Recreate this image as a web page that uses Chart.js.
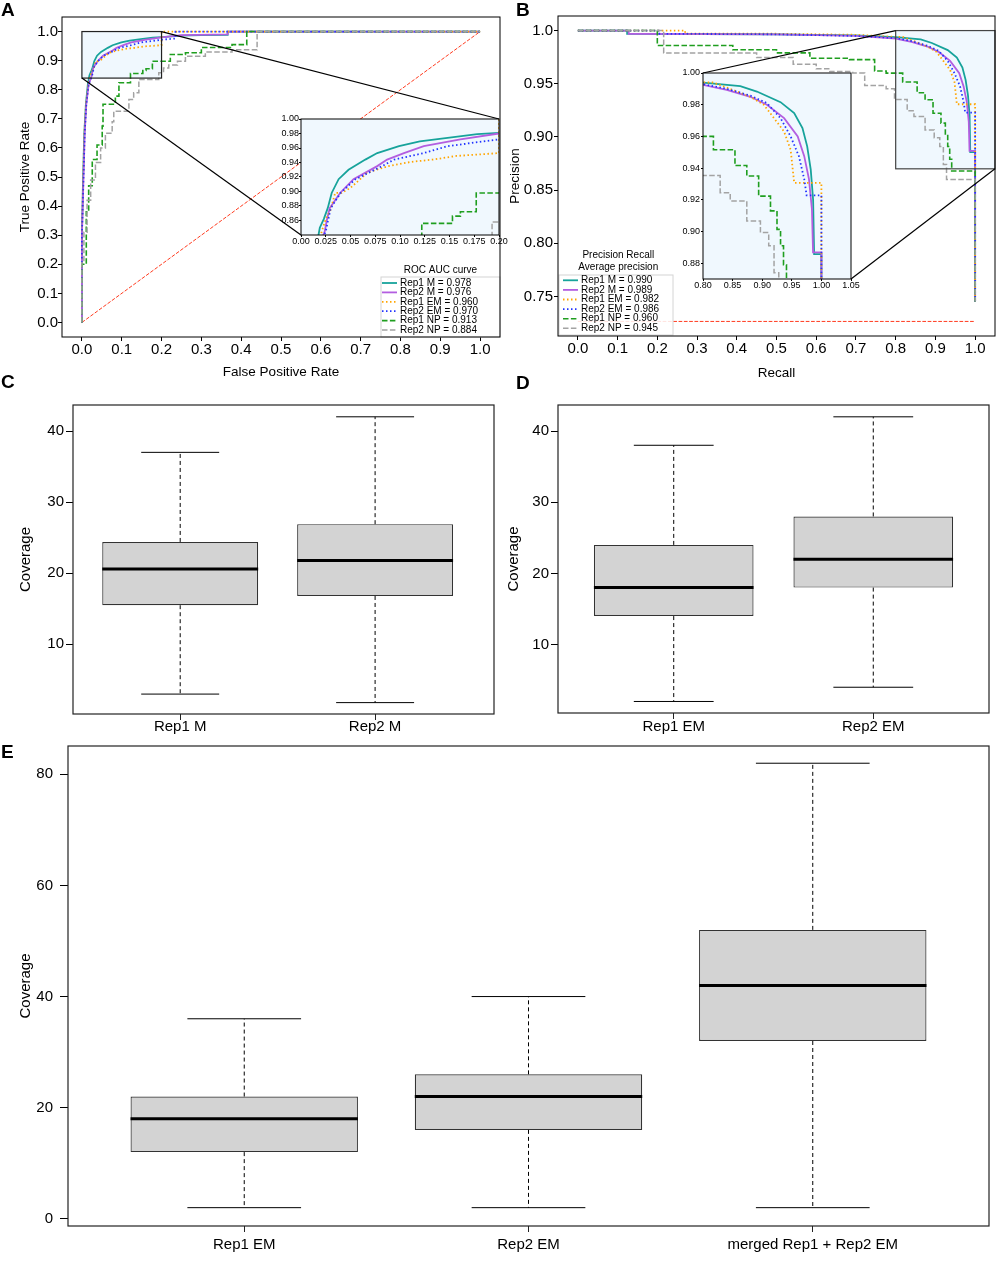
<!DOCTYPE html>
<html>
<head>
<meta charset="utf-8">
<title>ROC / PR curves and coverage box plots</title>
<script src="https://cdn.jsdelivr.net/npm/chart.js@4.4.1/dist/chart.umd.min.js"></script>
<style>
  html, body { margin: 0; padding: 0; background: #fff; }
  body { position: relative; width: 996px; height: 1286px; overflow: hidden; font-family: "Liberation Sans", Arial, sans-serif; }
  canvas { position: absolute; }
  .tag { position: absolute; font-weight: bold; font-size: 19px; line-height: 1; }
</style>
</head>
<body>
<canvas id="rocMain" width="502" height="385" style="left:0;top:0"></canvas>
<canvas id="prMain" width="500" height="385" style="left:496px;top:0"></canvas>
<canvas id="boxC" width="500" height="370" style="left:0;top:370px"></canvas>
<canvas id="boxD" width="500" height="370" style="left:496px;top:370px"></canvas>
<canvas id="boxE" width="996" height="556" style="left:0;top:730px"></canvas>
<canvas id="rocInset" width="257" height="140" style="left:255px;top:112px"></canvas>
<canvas id="prInset" width="205" height="230" style="left:660px;top:66px"></canvas>
<div class="tag" style="left:1px;top:0">A</div>
<div class="tag" style="left:516px;top:0">B</div>
<div class="tag" style="left:1px;top:372px">C</div>
<div class="tag" style="left:516px;top:373px">D</div>
<div class="tag" style="left:1px;top:742px">E</div>
<script>
// ---- series names and scores ----
const seriesNames = ['Rep1 M', 'Rep2 M', 'Rep1 EM', 'Rep2 EM', 'Rep1 NP', 'Rep2 NP'];
const rocAuc = [0.978, 0.976, 0.960, 0.970, 0.913, 0.884];
const prAvg = [0.990, 0.989, 0.982, 0.986, 0.960, 0.945];

// ---- panel A: ROC curves [fpr, tpr] ----
const rocRep1M = [[0,0],[0,0.3],[0.003,0.5],[0.006,0.65],[0.01,0.75],[0.015,0.82],[0.019,0.85],[0.023,0.862],[0.027,0.877],[0.031,0.898],[0.038,0.917],[0.048,0.93],[0.065,0.944],[0.077,0.953],[0.099,0.9625],[0.12,0.969],[0.148,0.974],[0.178,0.979],[0.2,0.981],[0.25,0.986],[0.3,0.988],[0.366,0.989],[0.366,1],[1,1]];
const rocRep2M = [[0,0],[0,0.3],[0.004,0.5],[0.007,0.65],[0.011,0.75],[0.017,0.82],[0.024,0.845],[0.026,0.86],[0.029,0.877],[0.0395,0.898],[0.053,0.917],[0.077,0.935],[0.087,0.944],[0.104,0.953],[0.124,0.9625],[0.161,0.972],[0.2,0.98],[0.25,0.988],[0.366,0.99],[0.366,1],[1,1]];
const rocRep1EM = [[0,0],[0,0.3],[0.003,0.5],[0.006,0.65],[0.01,0.75],[0.016,0.82],[0.021,0.845],[0.025,0.862],[0.03,0.875],[0.0345,0.898],[0.041,0.898],[0.05,0.905],[0.067,0.926],[0.088,0.935],[0.112,0.941],[0.133,0.944],[0.157,0.949],[0.2,0.953],[0.2,1],[1,1]];
const rocRep2EM = [[0,0],[0,0.3],[0.004,0.5],[0.007,0.65],[0.011,0.75],[0.017,0.82],[0.025,0.845],[0.03,0.877],[0.04,0.898],[0.055,0.917],[0.082,0.935],[0.094,0.944],[0.124,0.953],[0.148,0.9625],[0.2,0.972],[0.235,0.976],[0.235,1],[1,1]];
// NP curves are staircases: [end of flat run, level]
const rocRep1NP = [[0,0],[0.011,0.2],[0.017,0.38],[0.026,0.47],[0.038,0.56],[0.051,0.61],[0.053,0.675],[0.084,0.75],[0.093,0.778],[0.122,0.824],[0.153,0.856],[0.161,0.866],[0.177,0.872],[0.222,0.898],[0.26,0.921],[0.3,0.927],[0.377,0.945],[0.414,0.955],[1,1]];
const rocRep2NP = [[0,0],[0.005,0.21],[0.013,0.31],[0.022,0.42],[0.034,0.49],[0.047,0.55],[0.059,0.6],[0.076,0.65],[0.08,0.69],[0.118,0.726],[0.13,0.766],[0.143,0.79],[0.193,0.835],[0.205,0.858],[0.218,0.875],[0.24,0.885],[0.26,0.898],[0.31,0.915],[0.377,0.93],[0.44,0.937],[1,1]];
const rocChance = [[0,0],[1,1]];

// ---- panel B: precision-recall curves [recall, precision] ----
const prRep1M = [[0,1],[0.124,1],[0.124,0.997],[0.5,0.9965],[0.7,0.9955],[0.8,0.9939],[0.863,0.9917],[0.891,0.9883],[0.931,0.9816],[0.954,0.9747],[0.968,0.9653],[0.976,0.9537],[0.982,0.939],[0.986,0.92],[0.9877,0.8857],[1,0.8857],[1,0.745]];
const prRep2M = [[0,1],[0.128,1],[0.128,0.997],[0.5,0.9965],[0.7,0.995],[0.8,0.9925],[0.84,0.9893],[0.88,0.985],[0.908,0.98],[0.937,0.9715],[0.96,0.96],[0.971,0.9475],[0.979,0.933],[0.984,0.914],[0.9859,0.8868],[1,0.8868],[1,0.745]];
const prRep1EM = [[0,1],[0.27,1],[0.27,0.997],[0.5,0.997],[0.7,0.996],[0.8,0.994],[0.8176,0.994],[0.846,0.99],[0.88,0.985],[0.9026,0.98],[0.92,0.9715],[0.937,0.963],[0.948,0.9517],[0.954,0.9307],[1,0.9307],[1,0.745]];
const prRep2EM = [[0,1],[0.203,1],[0.203,0.997],[0.5,0.9965],[0.7,0.995],[0.8,0.993],[0.84,0.99],[0.88,0.9857],[0.908,0.981],[0.931,0.9715],[0.948,0.96],[0.962,0.9475],[0.971,0.933],[0.975,0.9228],[1,0.9228],[1,0.744]];
const prRep1NP = [[0,1],[0.2,1],[0.39,0.986],[0.5,0.982],[0.584,0.979],[0.684,0.974],[0.747,0.9727],[0.776,0.962],[0.8176,0.96],[0.854,0.9516],[0.874,0.9416],[0.894,0.935],[0.914,0.9223],[0.925,0.913],[0.931,0.9013],[0.936,0.891],[0.941,0.879],[1,0.868],[1,0.745]];
const prRep2NP = [[0,1],[0.216,1],[0.45,0.979],[0.542,0.9746],[0.6,0.9683],[0.634,0.964],[0.692,0.9614],[0.722,0.96],[0.776,0.9483],[0.797,0.9452],[0.829,0.9353],[0.846,0.9245],[0.874,0.9193],[0.897,0.9066],[0.911,0.8993],[0.92,0.891],[0.928,0.874],[1,0.86],[1,0.745]];
const prBaseline = [[0,0.7265],[1,0.7265]];

// ---- tick labels ----
const rocTickLabels = ['0.0','0.1','0.2','0.3','0.4','0.5','0.6','0.7','0.8','0.9','1.0'];
const prYTickLabels = ['0.75','0.80','0.85','0.90','0.95','1.0'];
const rocInsetX = ['0.00','0.025','0.05','0.075','0.10','0.125','0.15','0.175','0.20'];
const rocInsetY = ['0.86','0.88','0.90','0.92','0.94','0.96','0.98','1.00'];
const prInsetX = ['0.80','0.85','0.90','0.95','1.00','1.05'];
const prInsetY = ['0.88','0.90','0.92','0.94','0.96','0.98','1.00'];
const coverTicksCD = ['10','20','30','40'];
const coverTicksE = ['0','20','40','60','80'];

// ---- panels C, D, E: coverage box plots ----
const boxCCats = ['Rep1 M', 'Rep2 M'];
const boxCMin = [3, 1.8], boxCQ1 = [15.5, 16.8], boxCMed = [20.6, 21.8], boxCQ3 = [24.4, 26.9], boxCMax = [37, 42];
const boxDCats = ['Rep1 EM', 'Rep2 EM'];
const boxDMin = [2, 4], boxDQ1 = [14, 18], boxDMed = [18, 22], boxDQ3 = [24, 28], boxDMax = [38, 42];
const boxECats = ['Rep1 EM', 'Rep2 EM', 'merged Rep1 + Rep2 EM'];
const boxEMin = [2, 2, 2], boxEQ1 = [12, 16, 32], boxEMed = [18, 22, 42], boxEQ3 = [22, 26, 52], boxEMax = [36, 40, 82];

// ---- styles ----
const FONT = '"Liberation Sans", Arial, sans-serif';
const curveColors = ['#17a39b', '#b35ee0', '#ffa500', '#2233ff', '#1f9e1f', '#a3a3a3'];
const curveDashes = [[], [], [1.5, 2.5], [1.5, 2.5], [5.5, 2.4], [5.5, 2.4]];
const curveWidths = [1.8, 1.8, 1.8, 1.8, 1.6, 1.5];
const curveSteps = [false, false, false, false, 'after', 'after'];

Chart.defaults.font.family = FONT;
Chart.defaults.color = '#000';
Chart.defaults.animation = false;

function toXY(pts) { return pts.map(p => ({ x: p[0], y: p[1] })); }

function curveSets(list, scores, ref) {
  const sets = list.map((pts, i) => ({
    label: seriesNames[i] + ' = ' + scores[i].toFixed(3),
    data: toXY(pts),
    borderColor: curveColors[i],
    borderWidth: curveWidths[i],
    borderDash: curveDashes[i],
    stepped: curveSteps[i],
    pointRadius: 0,
    tension: 0,
    fill: false,
    order: -i,
    inLegend: true
  }));
  sets.push({ data: toXY(ref), borderColor: '#ff3b1f', borderWidth: 1, borderDash: [3.7, 1.6],
    pointRadius: 0, fill: false, order: 1, inLegend: false });
  return sets;
}

function linAxis(min, max, labels, o) {
  const values = labels.map(Number);
  return {
    type: 'linear', min: min, max: max, offset: false,
    afterBuildTicks: s => { s.ticks = values.map(v => ({ value: v })); },
    ticks: { callback: (v, i) => labels[i], font: { size: o.font }, padding: o.pad, maxRotation: 0, autoSkip: false, color: '#000' },
    grid: { drawOnChartArea: false, drawTicks: true, tickLength: o.tick, color: '#000', offset: false },
    border: { display: false },
    title: o.title ? { display: true, text: o.title, font: { size: o.titleSize }, color: '#000', padding: o.titlePad } : { display: false },
    afterFit: s => { if (s.isHorizontal()) s.height = o.size; else s.width = o.size; }
  };
}

function catAxis(min, max, cats, o) {
  return {
    type: 'linear', min: min, max: max, offset: false,
    afterBuildTicks: s => { s.ticks = cats.map((c, i) => ({ value: i + 1 })); },
    ticks: { callback: (v, i) => cats[i], font: { size: 15 }, padding: o.pad, maxRotation: 0, autoSkip: false, color: '#000' },
    grid: { drawOnChartArea: false, drawTicks: true, tickLength: o.tick, color: '#222', offset: false },
    border: { display: false },
    afterFit: s => { s.height = o.size; }
  };
}

function line(ctx, x0, y0, x1, y1) { ctx.beginPath(); ctx.moveTo(x0, y0); ctx.lineTo(x1, y1); ctx.stroke(); }

// frame around the plotting area
const framePlugin = {
  id: 'frame',
  afterDraw(chart, args, o) {
    const { left, top, right, bottom } = chart.chartArea;
    const ctx = chart.ctx;
    ctx.save();
    ctx.strokeStyle = o.color || '#000';
    ctx.lineWidth = o.width || 1;
    ctx.strokeRect(left, top, right - left, bottom - top);
    ctx.restore();
  }
};

// light blue background for the zoomed insets
const insetBgPlugin = {
  id: 'insetBg',
  beforeDatasetsDraw(chart, args, o) {
    const { left, top, right, bottom } = chart.chartArea;
    chart.ctx.save();
    chart.ctx.fillStyle = o.color;
    chart.ctx.fillRect(left, top, right - left, bottom - top);
    chart.ctx.restore();
  }
};

// zoom rectangle on the main chart, linked to the inset chart
function zoomGeom(chart, o) {
  const ins = o.inset();
  const xs = chart.scales.x, ys = chart.scales.y;
  const r = {
    left: xs.getPixelForValue(ins.scales.x.min), right: xs.getPixelForValue(ins.scales.x.max),
    top: ys.getPixelForValue(ins.scales.y.max), bottom: ys.getPixelForValue(ins.scales.y.min)
  };
  const a = chart.canvas.getBoundingClientRect(), b = ins.canvas.getBoundingClientRect();
  const dx = b.left - a.left, dy = b.top - a.top, ca = ins.chartArea;
  const t = { left: ca.left + dx, right: ca.right + dx, top: ca.top + dy, bottom: ca.bottom + dy };
  return { r, t };
}
const zoomPlugin = {
  id: 'zoomBox',
  beforeDatasetsDraw(chart, args, o) {
    const { r } = zoomGeom(chart, o);
    chart.ctx.save();
    chart.ctx.fillStyle = o.fill;
    chart.ctx.fillRect(r.left, r.top, r.right - r.left, r.bottom - r.top);
    chart.ctx.restore();
  },
  afterDatasetsDraw(chart, args, o) {
    const { r, t } = zoomGeom(chart, o);
    const ctx = chart.ctx;
    ctx.save();
    ctx.strokeStyle = o.edge;
    ctx.lineWidth = 1.2;
    ctx.strokeRect(r.left, r.top, r.right - r.left, r.bottom - r.top);
    ctx.strokeStyle = '#000';
    o.links.forEach(k => line(ctx, r[k[0]], r[k[1]], t[k[0]], t[k[1]]));
    ctx.restore();
  }
};

// matplotlib-like legend box
const legendPlugin = {
  id: 'curveLegend',
  afterDatasetsDraw(chart, args, o) {
    const ctx = chart.ctx;
    ctx.save();
    ctx.fillStyle = 'rgba(255,255,255,0.85)';
    ctx.fillRect(o.box[0], o.box[1], o.box[2], o.box[3]);
    ctx.strokeStyle = '#d4d4d4';
    ctx.lineWidth = 1;
    ctx.strokeRect(o.box[0], o.box[1], o.box[2], o.box[3]);
    ctx.font = '10px ' + FONT;
    ctx.fillStyle = '#000';
    ctx.textAlign = 'center';
    ctx.textBaseline = 'middle';
    o.title.forEach((t, k) => ctx.fillText(t, o.titleX, o.titleY + k * 12));
    ctx.textAlign = 'left';
    chart.data.datasets.filter(d => d.inLegend).forEach((d, k) => {
      const y = o.rowY + k * o.rowGap;
      ctx.strokeStyle = d.borderColor;
      ctx.lineWidth = d.borderWidth;
      ctx.setLineDash(d.borderDash);
      line(ctx, o.sampleX, y, o.sampleX + 15, y);
      ctx.setLineDash([]);
      ctx.fillText(d.label, o.sampleX + 18, y);
    });
    ctx.restore();
  }
};

// median, whiskers and caps on top of the floating-bar boxes
const boxWhiskerPlugin = {
  id: 'boxWhisker',
  afterDatasetsDraw(chart) {
    const ds = chart.data.datasets[0];
    const meta = chart.getDatasetMeta(0);
    const ys = chart.scales.y;
    const ctx = chart.ctx;
    ctx.save();
    ctx.strokeStyle = '#000';
    meta.data.forEach((bar, i) => {
      const p = bar.getProps(['x', 'width'], true);
      const cx = p.x, w = p.width;
      const q1 = ys.getPixelForValue(ds.data[i].y[0]);
      const q3 = ys.getPixelForValue(ds.data[i].y[1]);
      const lo = ys.getPixelForValue(ds.whiskerLow[i]);
      const hi = ys.getPixelForValue(ds.whiskerHigh[i]);
      const med = ys.getPixelForValue(ds.median[i]);
      ctx.lineWidth = 1;
      ctx.setLineDash([4, 3]);
      line(ctx, cx, q3, cx, hi);
      line(ctx, cx, q1, cx, lo);
      ctx.setLineDash([]);
      line(ctx, cx - w / 4, hi, cx + w / 4, hi);
      line(ctx, cx - w / 4, lo, cx + w / 4, lo);
      ctx.lineWidth = 3;
      line(ctx, cx - w / 2, med, cx + w / 2, med);
    });
    ctx.restore();
  }
};

const baseOpts = {
  responsive: false,
  events: [],
  plugins: { legend: { display: false }, tooltip: { enabled: false } }
};

function lineChart(id, sets, x, y, padding, extra, plugins) {
  return new Chart(document.getElementById(id), {
    type: 'line',
    data: { datasets: sets },
    options: Object.assign({}, baseOpts, {
      layout: { padding: padding },
      scales: { x: x, y: y },
      plugins: Object.assign({ legend: { display: false }, tooltip: { enabled: false }, frame: { color: '#000', width: 1 } }, extra)
    }),
    plugins: plugins
  });
}

const rocList = [rocRep1M, rocRep2M, rocRep1EM, rocRep2EM, rocRep1NP, rocRep2NP];
const prList = [prRep1M, prRep2M, prRep1EM, prRep2EM, prRep1NP, prRep2NP];

// ---- insets first, so the main charts can link to them ----
const rocInsetChart = lineChart('rocInset', curveSets(rocList, rocAuc, rocChance),
  linAxis(0, 0.2, rocInsetX, { font: 9, pad: -1, tick: 2, size: 17 }),
  linAxis(0.84, 1.0, rocInsetY, { font: 9, pad: 0, tick: 2, size: 46 }),
  { top: 7, right: 13, left: 0, bottom: 0 },
  { insetBg: { color: '#f0f8fe' } }, [insetBgPlugin, framePlugin]);

const prInsetChart = lineChart('prInset', curveSets(prList, prAvg, prBaseline),
  linAxis(0.8, 1.05, prInsetX, { font: 9, pad: -1, tick: 2, size: 17 }),
  linAxis(0.87, 1.0, prInsetY, { font: 9, pad: 1, tick: 2, size: 43 }),
  { top: 7, right: 14, left: 0, bottom: 0 },
  { insetBg: { color: '#f0f8fe' } }, [insetBgPlugin, framePlugin]);

// ---- panel A ----
lineChart('rocMain', curveSets(rocList, rocAuc, rocChance),
  linAxis(-0.05, 1.05, rocTickLabels, { font: 15, pad: 0, tick: 4, size: 48, title: 'False Positive Rate', titleSize: 13.5, titlePad: { top: 0, bottom: 4.9 } }),
  linAxis(-0.05, 1.05, rocTickLabels, { font: 15, pad: 0, tick: 4, size: 62, title: 'True Positive Rate', titleSize: 13.5, titlePad: { top: 16.9, bottom: 0 } }),
  { top: 17, right: 2, left: 0, bottom: 0 },
  {
    zoomBox: { inset: () => rocInsetChart, fill: '#f0f8fe', edge: '#222', links: [['right', 'top'], ['left', 'bottom']] },
    curveLegend: { box: [381, 277, 119, 60], title: ['ROC AUC curve'], titleX: 440.5, titleY: 270.7, rowY: 283, rowGap: 9.4, sampleX: 382 }
  }, [zoomPlugin, legendPlugin, framePlugin]);

// ---- panel B ----
lineChart('prMain', curveSets(prList, prAvg, prBaseline),
  linAxis(-0.05, 1.05, rocTickLabels, { font: 15, pad: 0, tick: 4, size: 49, title: 'Recall', titleSize: 13.5, titlePad: { top: 0, bottom: 3.9 } }),
  linAxis(0.7128, 1.0137, prYTickLabels, { font: 15, pad: 1, tick: 4, size: 62, title: 'Precision', titleSize: 13.5, titlePad: { top: 10.9, bottom: 0 } }),
  { top: 16, right: 1, left: 0, bottom: 0 },
  {
    zoomBox: { inset: () => prInsetChart, fill: '#f0f8fe', edge: '#444', links: [['left', 'top'], ['right', 'bottom']] },
    curveLegend: { box: [63, 275, 114, 60], title: ['Precision Recall', 'Average precision'], titleX: 122.3, titleY: 255.3, rowY: 280.3, rowGap: 9.6, sampleX: 67 }
  }, [zoomPlugin, legendPlugin, framePlugin]);

// ---- box plots ----
function boxChart(id, cats, mins, q1s, meds, q3s, maxs, xr, yr, yLabels, lay) {
  return new Chart(document.getElementById(id), {
    type: 'bar',
    data: {
      datasets: [{
        data: cats.map((c, i) => ({ x: i + 1, y: [q1s[i], q3s[i]] })),
        backgroundColor: '#d3d3d3',
        borderColor: '#333',
        borderWidth: 1.2,
        borderSkipped: false,
        barPercentage: 1,
        categoryPercentage: 0.8,
        whiskerLow: mins, median: meds, whiskerHigh: maxs
      }]
    },
    options: Object.assign({}, baseOpts, {
      layout: { padding: lay.padding },
      scales: {
        x: catAxis(xr[0], xr[1], cats, lay.x),
        y: Object.assign(linAxis(yr[0], yr[1], yLabels, lay.y), { beginAtZero: false })
      },
      plugins: { legend: { display: false }, tooltip: { enabled: false }, frame: { color: '#222', width: 1.2 } }
    }),
    plugins: [boxWhiskerPlugin, framePlugin]
  });
}

boxChart('boxC', boxCCats, boxCMin, boxCQ1, boxCMed, boxCQ3, boxCMax, [0.45, 2.61], [0.2, 43.66], coverTicksCD, {
  padding: { top: 35, right: 6, left: 0, bottom: 0 },
  x: { tick: 6, pad: -2, size: 26 },
  y: { font: 15, pad: 2, tick: 7, size: 73, title: 'Coverage', titleSize: 15, titlePad: { top: 16.7, bottom: 0 } }
});
boxChart('boxD', boxDCats, boxDMin, boxDQ1, boxDMed, boxDQ3, boxDMax, [0.42, 2.58], [0.38, 43.66], coverTicksCD, {
  padding: { top: 35, right: 7, left: 0, bottom: 0 },
  x: { tick: 6, pad: -1, size: 27 },
  y: { font: 15, pad: 2, tick: 7, size: 62, title: 'Coverage', titleSize: 15, titlePad: { top: 9.3, bottom: 0 } }
});
boxChart('boxE', boxECats, boxEMin, boxEQ1, boxEMed, boxEQ3, boxEMax, [0.38, 3.62], [-1.3, 85.1], coverTicksE, {
  padding: { top: 9, right: 7, left: 0, bottom: 0 },
  x: { tick: 6, pad: 4, size: 60 },
  y: { font: 15, pad: 7, tick: 8, size: 68, title: 'Coverage', titleSize: 15, titlePad: { top: 16.7, bottom: 0 } }
});
</script>
</body>
</html>
